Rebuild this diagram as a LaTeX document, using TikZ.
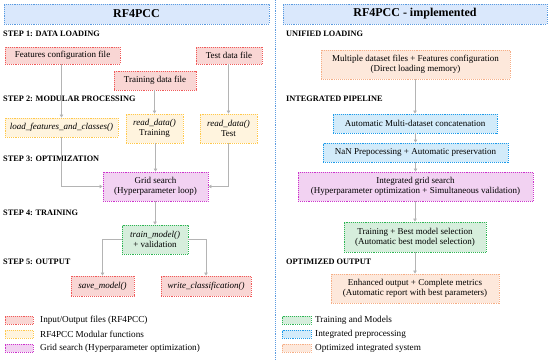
\documentclass[tikz,border=0pt]{standalone}
\usepackage{fontspec}
\setmainfont{Liberation Serif}
\usetikzlibrary{arrows.meta}
\definecolor{ttlfill}{HTML}{DAE8FC}
\definecolor{ttlline}{HTML}{5B9BE0}
\definecolor{redfill}{HTML}{F9D6D4}
\definecolor{redline}{HTML}{F05A5A}
\definecolor{yelfill}{HTML}{FFF4DE}
\definecolor{yelline}{HTML}{FFC84A}
\definecolor{purfill}{HTML}{F2D2F2}
\definecolor{purline}{HTML}{CC33CC}
\definecolor{grnfill}{HTML}{D6EEDC}
\definecolor{grnline}{HTML}{2DB553}
\definecolor{blufill}{HTML}{D2EBFA}
\definecolor{bluline}{HTML}{1D9BEA}
\definecolor{orafill}{HTML}{FDE8DB}
\definecolor{oraline}{HTML}{F6AE86}
\definecolor{conn}{HTML}{B4B4B4}
\tikzset{
  box/.style={draw, densely dotted, line width=0.9pt, inner sep=0pt, align=center,
    font=\fontsize{9}{10}\selectfont},
  redbox/.style={box, fill=redfill, draw=redline},
  yelbox/.style={box, fill=yelfill, draw=yelline},
  purbox/.style={box, fill=purfill, draw=purline},
  grnbox/.style={box, fill=grnfill, draw=grnline},
  blubox/.style={box, fill=blufill, draw=bluline},
  orabox/.style={box, fill=orafill, draw=oraline},
  ttlbox/.style={box, fill=ttlfill, draw=ttlline, font=\fontsize{12}{13}\selectfont\bfseries},
  head/.style={anchor=west, inner sep=0pt, font=\fontsize{8.3}{9}\selectfont\bfseries},
  legtxt/.style={anchor=west, inner sep=0pt, font=\fontsize{9.2}{10}\selectfont},
  sz/.style 2 args={minimum width=#1pt, minimum height=#2pt},
  arr/.style={draw=conn, line width=0.7pt, -{Triangle[length=3pt,width=3.5pt,fill=conn]}},
}
\begin{document}
\begin{tikzpicture}[x=1pt,y=-1pt]
\useasboundingbox (0,0) rectangle (550,360);
% divider
\draw[draw=ttlline, densely dotted, line width=0.9pt] (275,0) -- (275,360);
% titles
\node[ttlbox, sz={265}{20}] (tl) at (136.5,14) {RF4PCC};
\node[ttlbox, sz={264}{20}] (tr) at (415,14) {RF4PCC - implemented};
% headings left
\node[head] (h1) at (3,34) {STEP 1: DATA LOADING};
\node[head] (h2) at (3,99) {STEP 2: MODULAR PROCESSING};
\node[head] (h3) at (3,159) {STEP 3: OPTIMIZATION};
\node[head] (h4) at (3,213) {STEP 4: TRAINING};
\node[head] (h5) at (3,262) {STEP 5: OUTPUT};
% left nodes
\node[redbox, sz={115}{17}] (feat) at (62.5,55.5) {Features configuration file};
\node[redbox, sz={66}{17}] (test) at (229,55.5) {Test data file};
\node[redbox, sz={82}{19}] (train) at (155,80.5) {Training data file};
\node[yelbox, sz={113}{19}] (load) at (61.5,127.5) {\textit{load\_features\_and\_classes()}};
\node[yelbox, sz={57}{29}] (rdtr) at (154.5,128.5) {\textit{read\_data()}\\Training};
\node[yelbox, sz={57}{29}] (rdte) at (228.5,128.5) {\textit{read\_data()}\\Test};
\node[purbox, sz={105}{29}] (grid) at (155.5,186.5) {Grid search\\(Hyperparameter loop)};
\node[grnbox, sz={66}{29}] (tm) at (155,239.5) {\textit{train\_model()}\\+ validation};
\node[redbox, sz={63}{20}] (save) at (102.5,286) {\textit{save\_model()}};
\node[redbox, sz={90}{20}] (write) at (206,286) {\textit{write\_classification()}};
% left connectors
\draw[arr] (feat.south -| load.north) -- (load.north);
\draw[arr] (train.south -| rdtr.north) -- (rdtr.north);
\draw[arr] (test.south -| rdte.north) -- (rdte.north);
\draw[arr] (load.south) |- (grid.west);
\draw[arr] (rdte.south) |- (grid.east);
\draw[arr] (rdtr.south -| grid.north) -- (grid.north);
\draw[arr] (grid.south -| tm.north) -- (tm.north);
\draw[arr] (tm.west) -| (save.north);
\draw[arr] (tm.east) -| (write.north);
% left legend
\node[redbox, sz={28}{8}] (lg1) at (19,320) {};
\node[yelbox, sz={28}{8}] (lg2) at (19,334) {};
\node[purbox, sz={28}{8}] (lg3) at (19,348) {};
\node[legtxt] (lt1) at (40,320) {Input/Output files (RF4PCC)};
\node[legtxt] (lt2) at (40,334) {RF4PCC Modular functions};
\node[legtxt] (lt3) at (40,348) {Grid search (Hyperparameter optimization)};
% headings right
\node[head] (r1) at (286,34) {UNIFIED LOADING};
\node[head] (r2) at (286,99) {INTEGRATED PIPELINE};
\node[head] (r3) at (286,262) {OPTIMIZED OUTPUT};
% right nodes
\node[orabox, sz={189}{29}] (multi) at (415.5,64.5) {Multiple dataset files + Features configuration\\(Direct loading memory)};
\node[blubox, sz={164}{19}] (concat) at (415,123.5) {Automatic Multi-dataset concatenation};
\node[blubox, sz={185}{19}] (nan) at (415.5,152.5) {NaN Prepocessing + Automatic preservation};
\node[purbox, sz={235}{29}] (igrid) at (415.5,186.5) {Integrated grid search\\(Hyperparameter optimization + Simultaneous validation)};
\node[grnbox, sz={142}{30}] (best) at (415,237) {Training + Best model selection\\(Automatic best model selection)};
\node[orabox, sz={168}{29}] (enh) at (415,288.5) {Enhanced output + Complete metrics\\(Automatic report with best parameters)};
% right connectors
\draw[arr] (multi.south -| concat.north) -- (concat.north);
\draw[arr] (concat.south -| nan.north) -- (nan.north);
\draw[arr] (nan.south -| igrid.north) -- (igrid.north);
\draw[arr] (igrid.south -| best.north) -- (best.north);
\draw[arr] (best.south -| enh.north) -- (enh.north);
% right legend
\node[grnbox, sz={29}{8}] (lg4) at (296.5,320) {};
\node[blubox, sz={29}{8}] (lg5) at (296.5,334) {};
\node[orabox, sz={29}{8}] (lg6) at (296.5,348) {};
\node[legtxt] (lt4) at (315,320) {Training and Models};
\node[legtxt] (lt5) at (315,334) {Integrated preprocessing};
\node[legtxt] (lt6) at (315,348) {Optimized integrated system};
\end{tikzpicture}
\end{document}
